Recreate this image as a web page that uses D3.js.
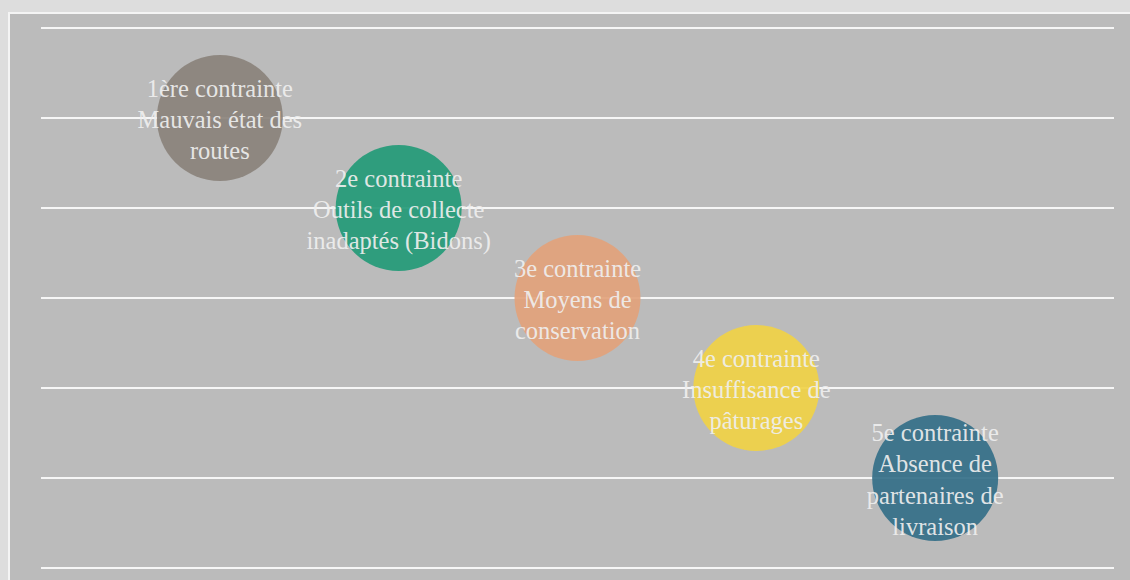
<!DOCTYPE html>
<html><head><meta charset="utf-8">
<script src="https://cdn.jsdelivr.net/npm/d3@7"></script>
<style>html,body{margin:0;padding:0;background:#dddddd;overflow:hidden}</style>
</head><body>
<svg id="c" width="1130" height="580"></svg>
<script>
const ranks = [1, 2, 3, 4, 5];
const labels = [
  ["1ère contrainte", "Mauvais état des", "routes"],
  ["2e contrainte", "Outils de collecte", "inadaptés (Bidons)"],
  ["3e contrainte", "Moyens de", "conservation"],
  ["4e contrainte", "Insuffisance de", "pâturages"],
  ["5e contrainte", "Absence de", "partenaires de", "livraison"]
];
const colors = ["#8b837c", "#259b78", "#e2a37c", "#f0d247", "#367089"];
const gridTicks = [0, 1, 2, 3, 4, 5, 6];

const svg = d3.select("#c");
svg.append("rect").attr("x", 9).attr("y", 13).attr("width", 1140).attr("height", 600)
  .attr("fill", "#bbbbbb").attr("stroke", "#f4f4f4").attr("stroke-width", 2);

const x = d3.scaleLinear().domain([0, 6]).range([41, 1114]);
const y = d3.scaleLinear().domain([0, 6]).range([28, 568]);
const r = 63;

svg.append("g").selectAll("line").data(gridTicks).join("line")
  .attr("x1", x(0)).attr("x2", x(6))
  .attr("y1", d => y(d)).attr("y2", d => y(d))
  .attr("stroke", "#f6f6f6").attr("stroke-width", 2);

const g = svg.append("g").selectAll("g").data(ranks).join("g")
  .attr("transform", d => `translate(${x(d)},${y(d)})`);
g.append("circle").attr("r", r).attr("fill", (d, i) => colors[i]).attr("fill-opacity", 0.93);

const lh = 31.3;
g.append("text")
  .attr("text-anchor", "middle")
  .attr("font-family", "'Liberation Serif', 'DejaVu Serif', serif")
  .attr("font-size", 24.5)
  .attr("fill", "#efefef").attr("fill-opacity", 0.93)
  .each(function(d, i) {
    const lines = labels[i];
    const t = d3.select(this);
    const start = -(lines.length - 1) * lh / 2 + 1.5;
    lines.forEach((s, k) => {
      t.append("tspan").attr("x", 0).attr("y", start + k * lh).attr("dy", "0.35em").text(s);
    });
  });
</script>
</body></html>
